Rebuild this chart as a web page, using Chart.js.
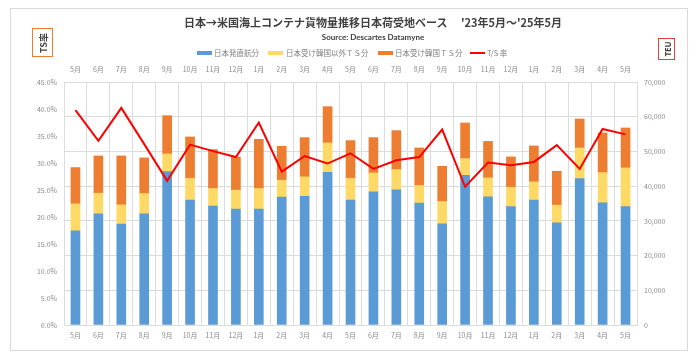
<!DOCTYPE html>
<html>
<head>
<meta charset="utf-8">
<script src="https://cdn.jsdelivr.net/npm/chart.js@4.4.1/dist/chart.umd.min.js"></script>
<style>
  html, body { margin: 0; padding: 0; background: #ffffff; }
  #wrap { position: relative; width: 700px; height: 355px; overflow: hidden; background: #fff; }
  #frame { position: absolute; left: 10px; top: 8px; width: 678px; height: 343px; border: 1px solid #d9d9d9; box-sizing: border-box; }
  canvas { position: absolute; left: 0; top: 0; }
  .txt { position: absolute; white-space: nowrap; }
  #title { left: 0; width: 746px; top: 14px; text-align: center; font: bold 11px "Noto Sans CJK JP", sans-serif; color: #404040; }
  #source { left: 0; width: 746px; top: 32px; text-align: center; font: bold 8px Lato, sans-serif; color: #404040; }
  .lg { position: absolute; top: 48px; font: 7.5px "Noto Sans CJK JP", sans-serif; color: #7f7f7f; white-space: nowrap; line-height: 10px; }
  .sw { position: absolute; height: 4px; width: 15px; top: 51px; }
  .box { position: absolute; box-sizing: border-box; background: #fff; }
  .rot { position: absolute; left: 50%; top: 50%; transform: translate(-50%, -50%) rotate(-90deg); white-space: nowrap; color: #404040; }
</style>
</head>
<body>
<div id="wrap">
  <div id="frame"></div>
  <canvas id="c" width="700" height="355"></canvas>
  <div class="txt" id="title">日本→米国海上コンテナ貨物量推移日本荷受地ベース　 '23年5月～'25年5月</div>
  <div class="txt" id="source">Source: Descartes Datamyne</div>

  <div class="sw" style="left:197px; background:#5B9BD5;"></div>
  <div class="lg" style="left:214px;">日本発直航分</div>
  <div class="sw" style="left:268px; background:#FFD966;"></div>
  <div class="lg" style="left:286px;">日本受け韓国以外ＴＳ分</div>
  <div class="sw" style="left:378px; background:#ED7D31;"></div>
  <div class="lg" style="left:395px;">日本受け韓国ＴＳ分</div>
  <div class="sw" style="left:470px; background:#FF0000; height:2px; top:52px;"></div>
  <div class="lg" style="left:487px;">T/S 率</div>

  <div class="box" style="left:32px; top:28px; width:21px; height:29px; border:1px solid #ED7D31;">
    <div class="rot" style="font: bold 9px 'Noto Sans CJK JP', sans-serif;">TS率</div>
  </div>
  <div class="box" style="left:658px; top:38px; width:17px; height:22px; border:1px solid #E04040;">
    <div class="rot" style="font: bold 8px 'Open Sans', sans-serif;">TEU</div>
  </div>
</div>
<script>
// ---- data ----
const months = ['5月','6月','7月','8月','9月','10月','11月','12月','1月','2月','3月','4月','5月','6月','7月','8月','9月','10月','11月','12月','1月','2月','3月','4月','5月'];
const directJapan = [27130,32020,29050,32020,44200,35950,34230,33370,33370,36820,37100,44010,35950,38350,38930,35090,29150,43140,36910,34130,35950,29430,42190,35190,34130];
const tsOtherThanKorea = [7770,5950,5560,5850,5080,6330,5080,5460,5940,4890,5570,8440,6330,5470,5840,5080,6420,4800,5470,5560,5280,5090,8820,8720,11120];
const tsKorea = [10450,10730,14090,10260,11030,11890,11220,9590,14190,9780,11310,10450,10840,10160,11220,10840,10160,10260,10500,8730,10350,9780,8340,11410,11510];
const tsRate = [39.8,34.1,40.2,33.5,26.7,33.4,32.2,31.1,37.5,28.4,31.3,29.9,31.8,28.9,30.5,31.1,36.2,25.6,30.1,29.6,30.2,33.3,28.9,36.3,35.3];
const leftTicksMax = 45;
const rightTicksMax = 70000;

const tickFont = { family: "'Noto Sans CJK JP', sans-serif", size: 7 };
const tickColor = '#8c8c8c';
const gridColor = '#dcdcdc';

new Chart(document.getElementById('c'), {
  data: {
    labels: months,
    datasets: [
      { type: 'line', label: 'T/S 率', data: tsRate, yAxisID: 'y', borderColor: '#FF0000', backgroundColor: '#FF0000', borderWidth: 2, pointRadius: 0, tension: 0, order: 0 },
      { type: 'bar', label: '日本発直航分', data: directJapan, yAxisID: 'y2', backgroundColor: '#5B9BD5', barThickness: 9, stack: 's', order: 1 },
      { type: 'bar', label: '日本受け韓国以外ＴＳ分', data: tsOtherThanKorea, yAxisID: 'y2', backgroundColor: '#FFD966', barThickness: 9, stack: 's', order: 1 },
      { type: 'bar', label: '日本受け韓国ＴＳ分', data: tsKorea, yAxisID: 'y2', backgroundColor: '#ED7D31', barThickness: 9, stack: 's', order: 1 }
    ]
  },
  options: {
    responsive: false,
    animation: false,
    devicePixelRatio: 1,
    layout: { padding: { top: 60, bottom: 10, left: 0, right: 0 } },
    plugins: { legend: { display: false }, title: { display: false }, tooltip: { enabled: false } },
    scales: {
      x: {
        type: 'category', position: 'bottom', stacked: true, offset: true,
        grid: { offset: true, color: gridColor, drawTicks: false },
        border: { color: gridColor },
        ticks: { font: tickFont, color: tickColor, padding: 6, maxRotation: 0, autoSkip: false },
        afterFit: s => { s.height = 20; }
      },
      x2: {
        type: 'category', position: 'top', labels: months, offset: true,
        grid: { display: false, drawTicks: false },
        border: { display: false },
        ticks: { font: tickFont, color: tickColor, padding: 8, maxRotation: 0, autoSkip: false },
        afterFit: s => { s.height = 22; }
      },
      y: {
        position: 'left', min: 0, max: leftTicksMax,
        grid: { display: false, drawTicks: false },
        border: { display: true, color: gridColor },
        ticks: { stepSize: 5, font: tickFont, color: tickColor, padding: 7, callback: v => v.toFixed(1) + '%' },
        afterFit: s => { s.width = 64; }
      },
      y2: {
        position: 'right', min: 0, max: rightTicksMax, stacked: true,
        grid: { color: gridColor, drawTicks: false },
        border: { display: true, color: gridColor },
        ticks: { stepSize: 10000, font: tickFont, color: tickColor, padding: 7, callback: v => v.toLocaleString('en-US') },
        afterFit: s => { s.width = 63; }
      }
    }
  }
});
</script>
</body>
</html>
